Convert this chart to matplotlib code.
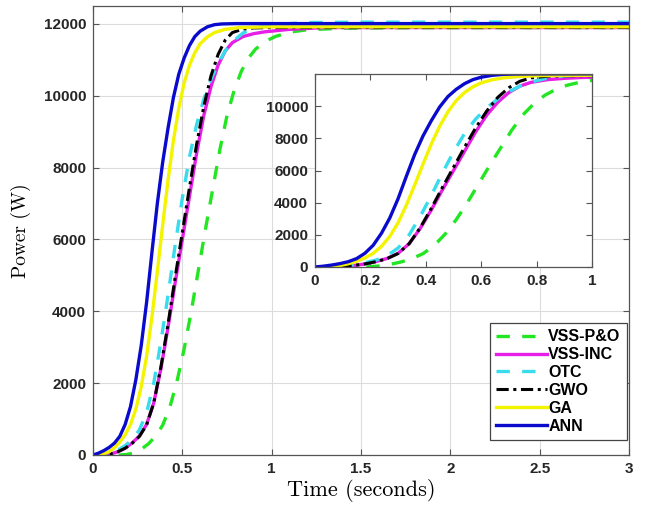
import matplotlib
matplotlib.use("Agg")
import matplotlib.pyplot as plt

# step responses of the six MPPT methods (time in s, power in W)
t_po = [0, 0.15, 0.19, 0.23, 0.27, 0.31, 0.35, 0.39, 0.43, 0.47, 0.51, 0.55, 0.59, 0.63, 0.67, 0.71, 0.75, 0.79, 0.83, 0.87, 0.91, 0.96, 1.02, 1.1, 1.2, 1.4, 1.8, 3.0]
p_po = [0, 0, 15, 60, 160, 310, 520, 830, 1330, 2050, 2950, 4000, 5150, 6300, 7400, 8500, 9450, 10150, 10680, 11050, 11300, 11500, 11650, 11770, 11840, 11880, 11900, 11900]

t_inc = [0, 0.06, 0.1, 0.14, 0.18, 0.22, 0.26, 0.3, 0.34, 0.38, 0.42, 0.46, 0.5, 0.54, 0.58, 0.62, 0.66, 0.7, 0.74, 0.78, 0.84, 0.9, 0.96, 1.1, 1.3, 3.0]
p_inc = [0, 8, 30, 90, 190, 340, 530, 850, 1450, 2400, 3550, 4800, 6000, 7200, 8400, 9450, 10250, 10850, 11250, 11480, 11650, 11730, 11780, 11850, 11900, 11900]

t_otc = [0, 0.06, 0.1, 0.14, 0.18, 0.22, 0.26, 0.3, 0.34, 0.38, 0.42, 0.46, 0.5, 0.54, 0.58, 0.62, 0.66, 0.7, 0.74, 0.78, 0.84, 0.9, 1.0, 1.2, 1.5, 3.0]
p_otc = [0, 20, 70, 140, 260, 430, 700, 1180, 2000, 3150, 4450, 5850, 7150, 8300, 9200, 9900, 10450, 10900, 11250, 11500, 11750, 11880, 11980, 12040, 12050, 12050]

t_gwo = [0, 0.06, 0.1, 0.14, 0.18, 0.22, 0.26, 0.3, 0.34, 0.38, 0.42, 0.46, 0.5, 0.54, 0.58, 0.62, 0.66, 0.7, 0.74, 0.78, 0.84, 0.9, 1.0, 3.0]
p_gwo = [0, 8, 35, 95, 190, 330, 520, 840, 1450, 2450, 3650, 4950, 6200, 7450, 8650, 9700, 10550, 11150, 11550, 11760, 11860, 11890, 11900, 11900]

t_ga = [0, 0.05, 0.09, 0.12, 0.15, 0.18, 0.21, 0.24, 0.27, 0.3, 0.33, 0.36, 0.39, 0.42, 0.45, 0.48, 0.51, 0.54, 0.57, 0.6, 0.64, 0.68, 0.74, 0.82, 1.0, 3.0]
p_ga = [0, 15, 90, 200, 360, 560, 850, 1280, 1900, 2750, 3850, 5100, 6400, 7650, 8750, 9650, 10350, 10850, 11200, 11450, 11640, 11760, 11850, 11900, 11920, 11920]

t_ann = [0, 0.03, 0.06, 0.09, 0.12, 0.15, 0.18, 0.21, 0.24, 0.27, 0.3, 0.33, 0.36, 0.39, 0.42, 0.45, 0.48, 0.51, 0.54, 0.57, 0.6, 0.64, 0.68, 0.72, 0.8, 1.0, 3.0]
p_ann = [0, 50, 120, 210, 330, 520, 850, 1350, 2100, 3050, 4250, 5650, 7000, 8150, 9100, 9950, 10600, 11050, 11400, 11650, 11800, 11920, 11980, 12000, 12010, 12010, 12010]

labels = ["VSS-P&O", "VSS-INC", "OTC", "GWO", "GA", "ANN"]

tick_font = {"family": "Liberation Sans", "weight": "bold", "size": 11}
edge = "#555555"


def draw_curves(ax):
    ax.plot(t_po, p_po, color="#22e622", lw=2.4, dashes=(4, 3.7), label=labels[0])
    ax.plot(t_inc, p_inc, color="#e51fe5", lw=2.4, label=labels[1])
    ax.plot(t_otc, p_otc, color="#38dcec", lw=2.4, dashes=(4, 3.7), label=labels[2])
    ax.plot(t_gwo, p_gwo, color="black", lw=2.2, dashes=(4, 1.5, 1, 1.5), label=labels[3])
    ax.plot(t_ga, p_ga, color="#f4f400", lw=2.4, label=labels[4])
    ax.plot(t_ann, p_ann, color="#0a0acc", lw=2.4, label=labels[5])


def style_axes(ax):
    ax.tick_params(direction="in", top=True, right=True, length=4, width=0.8,
                   color=edge, pad=5)
    for s in ax.spines.values():
        s.set_color(edge)
        s.set_linewidth(0.9)
    for lab in ax.get_xticklabels() + ax.get_yticklabels():
        lab.set_fontproperties(tick_font)
        lab.set_color("#262626")


fig = plt.figure(figsize=(6.46, 5.12), dpi=100)

ax = fig.add_axes([93 / 646, 57 / 512, 536 / 646, 449 / 512])
draw_curves(ax)
ax.set_xlim(0, 3)
ax.set_ylim(0, 12500)
ax.set_xticks([0, 0.5, 1, 1.5, 2, 2.5, 3])
ax.set_xticklabels(["0", "0.5", "1", "1.5", "2", "2.5", "3"])
ax.set_yticks(range(0, 12001, 2000))
ax.grid(True, color="#dcdcdc", lw=0.8)
style_axes(ax)
ax.set_xlabel("Time (seconds)", fontfamily="cmr10", fontsize=16, labelpad=2)
ax.set_ylabel("Power (W)", fontfamily="cmr10", fontsize=14, labelpad=9)

leg = ax.legend(loc="lower right", bbox_to_anchor=(0.9963, 0.0334), borderaxespad=0,
                prop={"family": "Liberation Sans", "weight": "bold", "size": 11.5},
                handlelength=3.15, handletextpad=0.1, labelspacing=0.18,
                borderpad=0.4, fancybox=False, framealpha=1)
leg.get_frame().set_edgecolor("#444444")
leg.get_frame().set_linewidth(0.9)

# zoomed view of the first second
axin = fig.add_axes([315 / 646, 245 / 512, 277 / 646, 193 / 512])
axin.set_facecolor("white")
draw_curves(axin)
axin.set_xlim(0, 1)
axin.set_ylim(0, 12000)
axin.set_xticks([0, 0.2, 0.4, 0.6, 0.8, 1])
axin.set_xticklabels(["0", "0.2", "0.4", "0.6", "0.8", "1"])
axin.set_yticks(range(0, 10001, 2000))
style_axes(axin)

fig.savefig("out.png", dpi=100)
